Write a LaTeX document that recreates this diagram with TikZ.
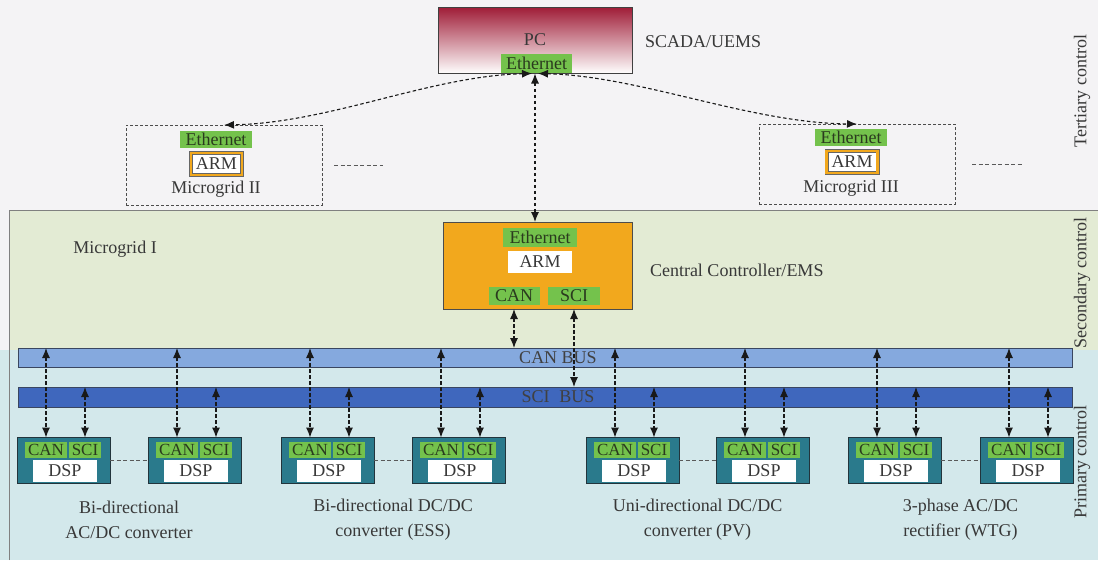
\documentclass[tikz,border=0pt]{standalone}
\usepackage{fontspec}
\setmainfont{Liberation Serif}
\usetikzlibrary{arrows.meta,calc}

\definecolor{topbg}{HTML}{F4F3F5}
\definecolor{secbg}{HTML}{E3EBD4}
\definecolor{pribg}{HTML}{D3E8EB}
\definecolor{zoneln}{HTML}{808080}
\definecolor{txtc}{HTML}{383838}
\definecolor{tagg}{HTML}{74C24C}
\definecolor{tagtxt}{HTML}{2A3A1E}
\definecolor{armorange}{HTML}{F2A81D}
\definecolor{pcred}{HTML}{A01E38}
\definecolor{pcpink}{HTML}{ECC2CA}
\definecolor{canblue}{HTML}{85A9DE}
\definecolor{sciblue}{HTML}{3F67BD}
\definecolor{busedge}{HTML}{3A4660}
\definecolor{unitteal}{HTML}{2A7A8C}
\definecolor{unitedge}{HTML}{22343C}

\begin{document}
\begin{tikzpicture}[x=1pt,y=-1pt,
  every node/.style={inner sep=0pt, outer sep=0pt, text=txtc,
    font=\fontsize{18}{21}\selectfont},
  tag/.style={fill=tagg, text=tagtxt},
  unittag/.style={tag, font=\fontsize{17}{19}\selectfont},
  whitebox/.style={fill=white},
  armbox/.style={fill=white, draw=black!60, double=armorange,
    double distance=2.8pt, line width=0.6pt},
  pcbox/.style={draw=black!75, line width=0.9pt, top color=pcred,
    middle color=pcpink, bottom color=white},
  mgbox/.style={draw=black!70, line width=1pt, dash pattern=on 3pt off 2pt},
  ccbox/.style={fill=armorange, draw=black!70, line width=0.9pt},
  canbusbox/.style={fill=canblue, draw=busedge, line width=0.9pt},
  scibusbox/.style={fill=sciblue, draw=busedge, line width=0.9pt},
  unit/.style={fill=unitteal, draw=unitedge, line width=1pt},
  grp/.style={align=center, font=\fontsize{18}{25}\selectfont},
  side/.style={rotate=90},
  gapdash/.style={draw=black!65, line width=1pt, dash pattern=on 4pt off 2.5pt},
  link/.style={draw=black!90, line width=1.1pt, dash pattern=on 3.5pt off 2.5pt,
    arrows={Latex[length=10pt,width=8pt]-Latex[length=10pt,width=8pt]}}
]
\useasboundingbox (0,0) rectangle (1098,560);

% control layers
\fill[topbg] (0,0) rectangle (1098,560);
\fill[secbg] (9,210) rectangle (1098,350);
\fill[pribg] (0,350) rectangle (1098,560);
\draw[zoneln, line width=0.9pt] (9,560) -- (9,210) -- (1098,210);

% supervisory PC
\node[pcbox, minimum width=194pt, minimum height=66pt] (pc) at (535,40.5) {};
\node (pclbl) at (535,40) {PC};
\node[tag, minimum width=71pt, minimum height=19pt] (pceth) at (536.5,63.5) {Ethernet};
\node[anchor=west] (scada) at (645,42) {SCADA/UEMS};

% neighbouring microgrids
\node[mgbox, minimum width=196pt, minimum height=80pt] (mg2) at (224,165) {};
\node[tag, minimum width=72pt, minimum height=17pt] (mg2eth) at (216,139) {Ethernet};
\node[armbox, minimum width=51pt, minimum height=22pt] (mg2arm) at (216.5,164) {ARM};
\node (mg2lbl) at (216,189) {Microgrid II};
\draw[gapdash] ([xshift=12pt]mg2.east) -- ([xshift=61pt]mg2.east);

\node[mgbox, minimum width=196pt, minimum height=80pt] (mg3) at (857,164) {};
\node[tag, minimum width=72pt, minimum height=17pt] (mg3eth) at (851,137) {Ethernet};
\node[armbox, minimum width=51pt, minimum height=22pt] (mg3arm) at (852,162) {ARM};
\node (mg3lbl) at (851,188) {Microgrid III};
\draw[gapdash] ([xshift=17pt]mg3.east) -- ([xshift=68pt]mg3.east);

% microgrid I central controller
\node (mg1lbl) at (115,249) {Microgrid I};
\node[ccbox, minimum width=189pt, minimum height=87pt] (cc) at (537.5,265.5) {};
\node[tag, minimum width=74pt, minimum height=19pt] (cceth) at (540,237.5) {Ethernet};
\node[whitebox, minimum width=64pt, minimum height=22pt] (ccarm) at (540,262) {ARM};
\node[tag, minimum width=51pt, minimum height=18pt] (cccan) at (514,295.5) {CAN};
\node[tag, minimum width=52pt, minimum height=18pt] (ccsci) at (574,295.5) {SCI};
\node[anchor=west] (cclbl) at (650,270) {Central Controller/EMS};

% field buses
\node[canbusbox, minimum width=1054pt, minimum height=19pt] (canbus) at (545,357.5) {};
\node[text=black!75] (canlbl) at (558,357.5) {CAN BUS};
\node[scibusbox, minimum width=1054pt, minimum height=20pt] (scibus) at (545,397) {};
\node[text=black!75] (scilbl) at (558,397) {SCI\hspace{0.55em}BUS};

% converter DSP units
\foreach \i/\x in {1/17,2/148,3/281,4/412,5/586,6/716,7/848,8/980}{
  \node[unit, minimum width=93pt, minimum height=46pt] (u\i) at (\x+46.5,460.5) {};
  \node[unittag, minimum width=42pt, minimum height=16pt] (ucan\i) at (\x+29,449.5) {CAN};
  \node[unittag, minimum width=32pt, minimum height=16pt] (usci\i) at (\x+68,449.5) {SCI};
  \node[whitebox, minimum width=64pt, minimum height=22pt] (udsp\i) at (\x+48,471) {DSP};
}
\foreach \a/\b in {1/2,3/4,5/6,7/8}{
  \draw[gapdash] (u\a.east) -- (u\b.west);
}

\node[grp] (g1) at (129,520) {Bi-directional\\AC/DC converter};
\node[grp] (g2) at (393,520) {Bi-directional DC/DC\\converter (ESS)};
\node[grp] (g3) at (697.5,520) {Uni-directional DC/DC\\converter (PV)};
\node[grp] (g4) at (960.5,520) {3-phase AC/DC\\rectifier (WTG)};

% control level captions
\node[side] (tert) at (1082,91) {Tertiary control};
\node[side] (seco) at (1082,283) {Secondary control};
\node[side] (prim) at (1082,462) {Primary control};

% communication links
\draw[link] ([xshift=-3pt]pc.south) .. controls (430,76) and (330,123) .. (mg2.north);
\draw[link] ([xshift=3pt]pc.south) .. controls (640,76) and (750,123) .. (mg3.north);
\draw[link] (pc.south) -- (pc.south |- cc.north);
\draw[link] (cccan |- cc.south) -- (cccan |- canbus.north);
\draw[link] (ccsci |- cc.south) -- (ccsci |- scibus.north);
\foreach \i in {1,...,8}{
  \draw[link] (ucan\i |- canbus.north) -- (ucan\i |- u\i.north);
  \draw[link] (usci\i |- scibus.north) -- (usci\i |- u\i.north);
}
\end{tikzpicture}
\end{document}
